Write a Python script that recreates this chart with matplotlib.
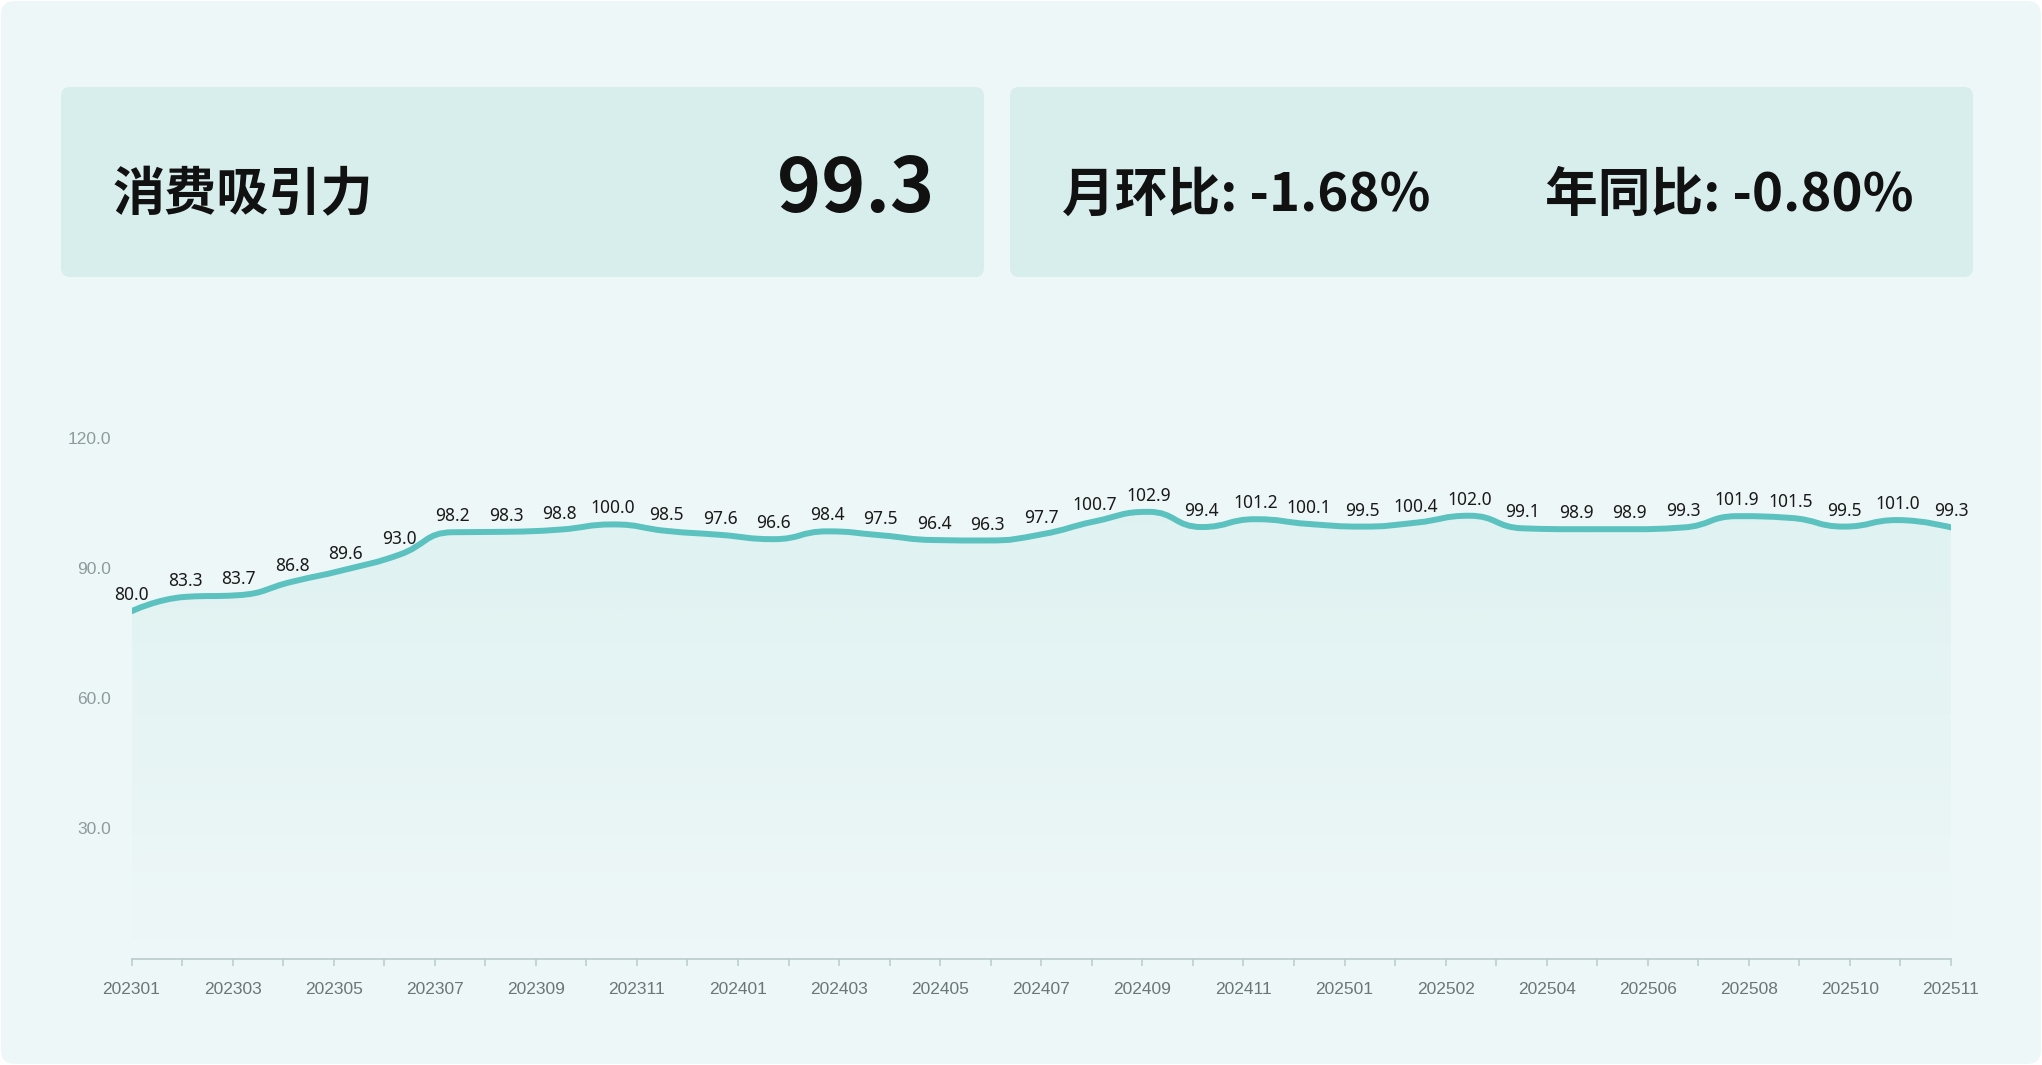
import numpy as np
import matplotlib
matplotlib.use("Agg")
import matplotlib.pyplot as plt
from matplotlib.patches import FancyBboxPatch, PathPatch
from matplotlib.path import Path

plt.rcParams["font.family"] = ["Noto Sans CJK SC", "DejaVu Sans"]

# ---- data ----
values = [80.0, 83.3, 83.7, 86.8, 89.6, 93.0, 98.2, 98.3, 98.8, 100.0,
          98.5, 97.6, 96.6, 98.4, 97.5, 96.4, 96.3, 97.7, 100.7, 102.9,
          99.4, 101.2, 100.1, 99.5, 100.4, 102.0, 99.1, 98.9, 98.9, 99.3,
          101.9, 101.5, 99.5, 101.0, 99.3]
tick_labels = ["202301", "202303", "202305", "202307", "202309", "202311",
               "202401", "202403", "202405", "202407", "202409", "202411",
               "202501", "202502", "202504", "202506", "202508", "202510",
               "202511"]
n_categories = 37
y_ticks = [30, 60, 90, 120]

title = "消费吸引力"
current = "99.3"
mom = "月环比: -1.68%"
yoy = "年同比: -0.80%"

W, H = 2042, 1065
BG = "#eef7f7"
CARD = "#d8eeec"
LINE = "#5bc2c0"


def smooth_path(xs, ys, sx, sy, smooth=0.5):
    # echarts style bezier smoothing with clamped control points
    P = np.column_stack([np.asarray(xs) * sx, np.asarray(ys) * sy])
    n = len(P)
    cp0 = P.copy()
    cp1 = P.copy()
    for i in range(1, n - 1):
        prev, cur, nxt = P[i - 1], P[i], P[i + 1]
        v = (nxt - prev) * smooth
        d0 = np.hypot(*(cur - prev))
        d1 = np.hypot(*(nxt - cur))
        r = d1 / (d0 + d1)
        c1 = cur + v * r
        c1 = np.minimum(c1, np.maximum(nxt, cur))
        c1 = np.maximum(c1, np.minimum(nxt, cur))
        c0 = cur - (c1 - cur) * d0 / d1
        c0 = np.minimum(c0, np.maximum(prev, cur))
        c0 = np.maximum(c0, np.minimum(prev, cur))
        c1 = cur + (cur - c0) * d1 / d0
        cp0[i], cp1[i] = c0, c1
    verts = [P[0]]
    codes = [Path.MOVETO]
    for i in range(n - 1):
        verts += [cp1[i], cp0[i + 1], P[i + 1]]
        codes += [Path.CURVE4] * 3
    verts = np.array(verts) / [sx, sy]
    return verts, codes


fig = plt.figure(figsize=(W / 100, H / 100), dpi=100, facecolor="white")

# background + cards in pixel coordinates
bg = fig.add_axes([0, 0, 1, 1])
bg.set_xlim(0, W)
bg.set_ylim(H, 0)
bg.axis("off")
bg.add_patch(FancyBboxPatch((1, 1), W - 2, H - 2,
                            boxstyle="round,pad=0,rounding_size=14",
                            fc=BG, ec="none"))
for x0, x1 in [(61, 984), (1010, 1973)]:
    bg.add_patch(FancyBboxPatch((x0, 87), x1 - x0, 190,
                                boxstyle="round,pad=0,rounding_size=9",
                                fc=CARD, ec="none"))

bg.text(113, 195, title, fontsize=37.5, fontweight="bold", color="#111111",
        ha="left", va="center")
bg.text(934, 190, current, fontsize=54, fontweight="bold", color="#111111",
        ha="right", va="center")
bg.text(1062, 195, mom, fontsize=38, fontweight="bold", color="#111111",
        ha="left", va="center")
bg.text(1545, 195, yoy, fontsize=38, fontweight="bold", color="#111111",
        ha="left", va="center")

# line chart
ax = fig.add_axes([131.5 / W, 1 - 958.5 / H, (1951 - 131.5) / W,
                   (958.5 - 437.6) / H])
ax.set_facecolor("none")
x = np.arange(len(values))
xmax = len(values) - 1
ax.set_xlim(0, xmax)
ax.set_ylim(0, 120)

verts, codes = smooth_path(x, values, 53.5, 4.34)
ax.add_patch(PathPatch(Path(verts, codes), fc="none", ec=LINE, lw=4.3,
                       capstyle="round", joinstyle="round", zorder=3))

# gradient fill under the curve
fill_verts = np.vstack([verts, [[xmax, 0], [0, 0], verts[0]]])
fill_codes = codes + [Path.LINETO, Path.LINETO, Path.CLOSEPOLY]
clip = PathPatch(Path(fill_verts, fill_codes), fc="none", ec="none",
                 transform=ax.transData)
ax.add_patch(clip)
top = max(values)
grad = np.zeros((256, 2, 4))
grad[..., :3] = matplotlib.colors.to_rgb(LINE)
grad[..., 3] = np.linspace(0.10, 0.0, 256)[:, None]
im = ax.imshow(grad, extent=[0, xmax, 0, top], origin="upper",
               aspect="auto", zorder=1)
im.set_clip_path(clip)

for xi, v in zip(x, values):
    ax.annotate(f"{v:.1f}", (xi, v), xytext=(0, 11.5),
                textcoords="offset points", ha="center", va="center",
                fontsize=12.5, color="#1a1a1a",
                family=["Noto Sans", "DejaVu Sans"], zorder=4)

# axes styling
for s in ["left", "right", "top"]:
    ax.spines[s].set_visible(False)
ax.spines["bottom"].set_color("#b7cbca")
ax.spines["bottom"].set_linewidth(1.2)

ax.set_xticks(np.linspace(0, xmax, len(tick_labels)))
ax.set_xticklabels(tick_labels, family=["Liberation Sans"], fontsize=12.5,
                   color="#6b7676")
ax.set_xticks(np.linspace(0, xmax, n_categories), minor=True)
ax.tick_params(axis="x", which="both", direction="out", length=5,
               width=1.1, color="#b7cbca", pad=12)

ax.set_yticks(y_ticks)
ax.set_yticklabels([f"{t:.1f}" for t in y_ticks],
                   family=["Liberation Sans"], fontsize=12.5,
                   color="#8c9b9b")
ax.tick_params(axis="y", length=0, pad=15)

fig.savefig("out.png", dpi=100, facecolor="white")
